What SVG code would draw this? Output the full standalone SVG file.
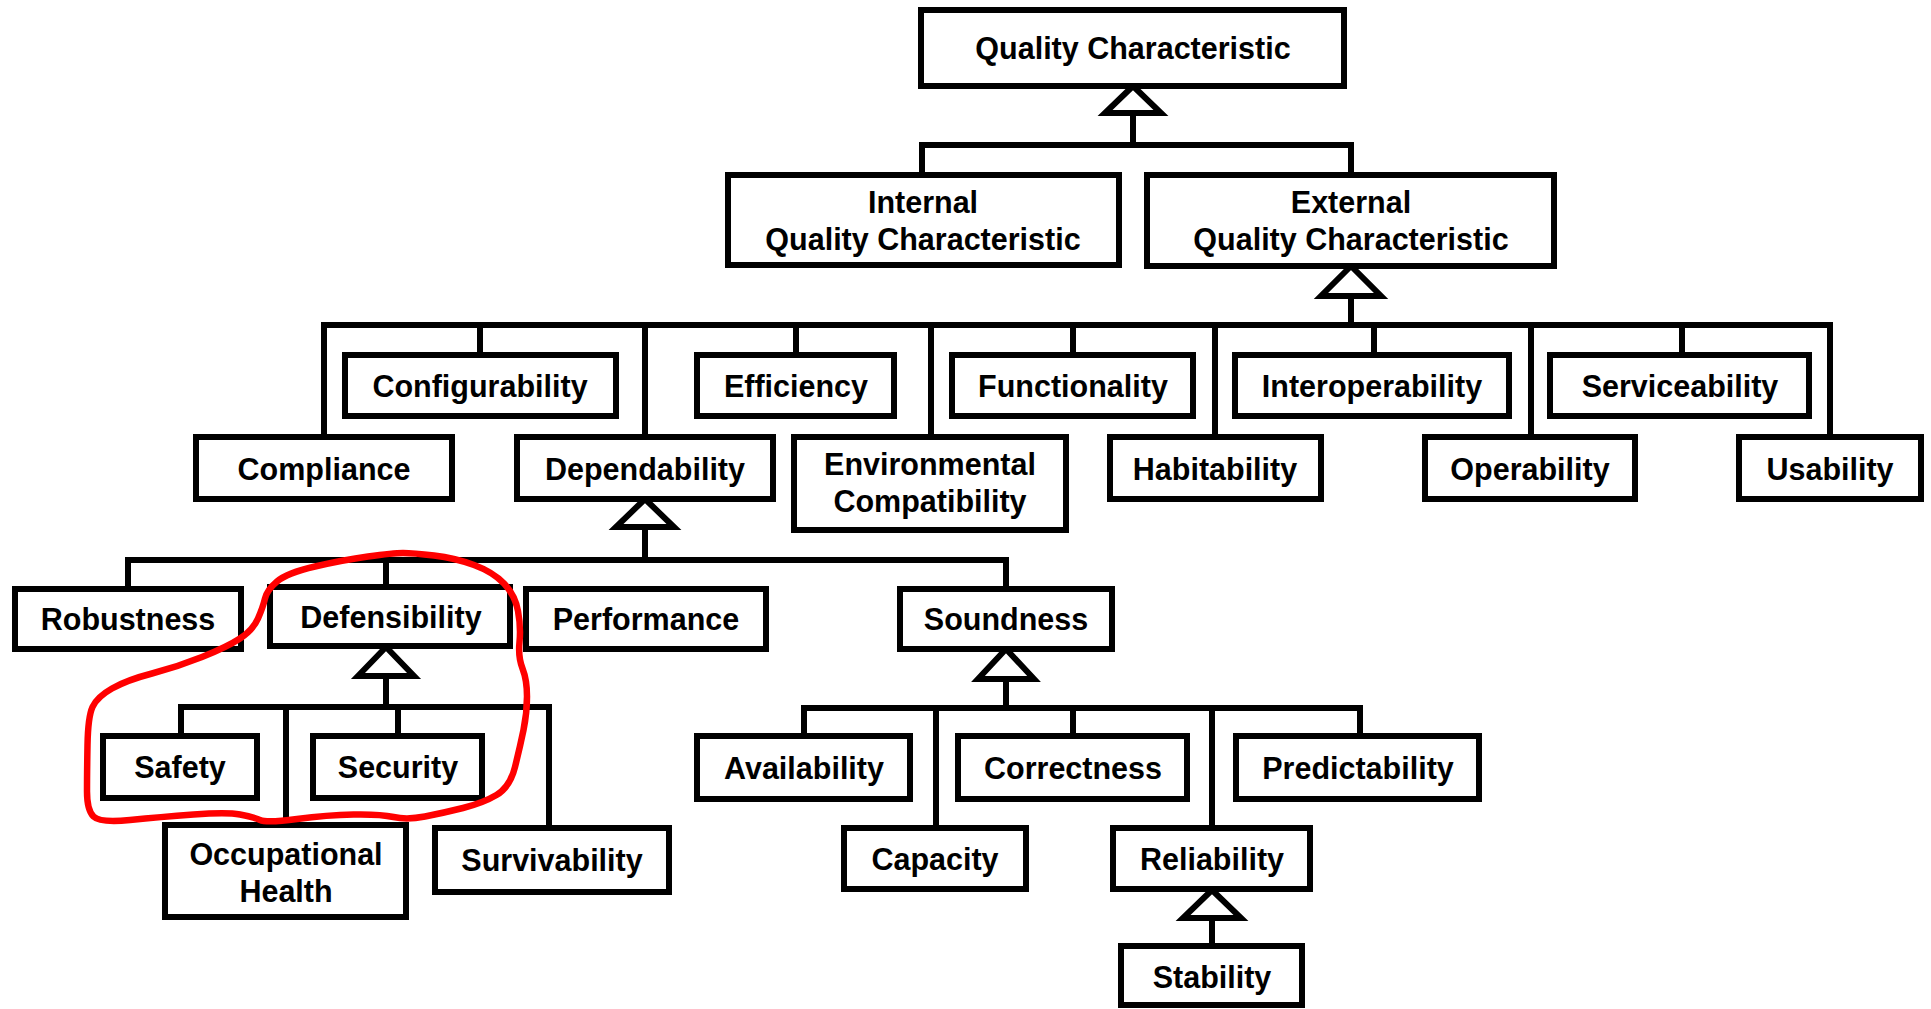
<svg xmlns="http://www.w3.org/2000/svg" width="1931" height="1009" viewBox="0 0 1931 1009">
<defs>
<style>
.box{fill:#fff;stroke:#000;stroke-width:6}
.t{font-family:"Liberation Sans",Arial,sans-serif;font-weight:bold;font-size:30.5px;fill:#000;text-anchor:middle}
.c{fill:none;stroke:#000;stroke-width:6;stroke-linecap:square}
.tri{fill:#fff;stroke:#000;stroke-width:6;stroke-linejoin:miter}
.loop{fill:none;stroke:#f00;stroke-width:6.5;stroke-linejoin:round;stroke-linecap:round}
</style>
</defs>
<rect width="1931" height="1009" fill="#fff"/>
<g id="connectors">
<path class="c" d="M1133 113V145M922 175V145H1351V175"/>
<path class="tri" d="M1133 86L1105 113H1161Z"/>
<path class="c" d="M1351 296V325M324 437V325H1830V437M480 325V355M645 325V437M796 325V355M931 325V437M1073 325V355M1215 325V437M1374 325V355M1531 325V437M1682 325V355"/>
<path class="tri" d="M1351 266L1321 296H1381Z"/>
<path class="c" d="M645 527V560M128 589V560H1006V589M386 560V587"/>
<path class="tri" d="M645 499L616 527H674Z"/>
<path class="c" d="M386 676V707M181 736V707H549V828M286 707V825M398 707V736"/>
<path class="tri" d="M386 647L358 676H414Z"/>
<path class="c" d="M1006 679V708M804 736V708H1360V736M936 708V828M1073 708V736M1212 708V828"/>
<path class="tri" d="M1006 649L978 679H1034Z"/>
<path class="c" d="M1212 918V946"/>
<path class="tri" d="M1212 890L1183 918H1241Z"/>
</g>
<g id="n-quality"><rect class="box" x="921" y="10" width="423" height="76"/><text class="t" x="1133" y="59">Quality Characteristic</text></g>
<g id="n-internal"><rect class="box" x="728" y="175" width="391" height="90"/><text class="t" x="923" y="213">Internal</text><text class="t" x="923" y="250">Quality Characteristic</text></g>
<g id="n-external"><rect class="box" x="1147" y="175" width="407" height="91"/><text class="t" x="1351" y="213">External</text><text class="t" x="1351" y="250">Quality Characteristic</text></g>
<g id="n-configurability"><rect class="box" x="345" y="355" width="271" height="61"/><text class="t" x="480" y="397">Configurability</text></g>
<g id="n-efficiency"><rect class="box" x="697" y="355" width="197" height="61"/><text class="t" x="796" y="397">Efficiency</text></g>
<g id="n-functionality"><rect class="box" x="952" y="355" width="241" height="61"/><text class="t" x="1073" y="397">Functionality</text></g>
<g id="n-interoperability"><rect class="box" x="1235" y="355" width="274" height="61"/><text class="t" x="1372" y="397">Interoperability</text></g>
<g id="n-serviceability"><rect class="box" x="1550" y="355" width="259" height="61"/><text class="t" x="1680" y="397">Serviceability</text></g>
<g id="n-compliance"><rect class="box" x="196" y="437" width="256" height="62"/><text class="t" x="324" y="480">Compliance</text></g>
<g id="n-dependability"><rect class="box" x="517" y="437" width="256" height="62"/><text class="t" x="645" y="480">Dependability</text></g>
<g id="n-environmental"><rect class="box" x="794" y="437" width="272" height="93"/><text class="t" x="930" y="475">Environmental</text><text class="t" x="930" y="512">Compatibility</text></g>
<g id="n-habitability"><rect class="box" x="1110" y="437" width="211" height="62"/><text class="t" x="1215" y="480">Habitability</text></g>
<g id="n-operability"><rect class="box" x="1425" y="437" width="210" height="62"/><text class="t" x="1530" y="480">Operability</text></g>
<g id="n-usability"><rect class="box" x="1739" y="437" width="182" height="62"/><text class="t" x="1830" y="480">Usability</text></g>
<g id="n-robustness"><rect class="box" x="15" y="589" width="226" height="60"/><text class="t" x="128" y="630">Robustness</text></g>
<g id="n-defensibility"><rect class="box" x="270" y="587" width="240" height="59"/><text class="t" x="391" y="628">Defensibility</text></g>
<g id="n-performance"><rect class="box" x="526" y="589" width="240" height="60"/><text class="t" x="646" y="630">Performance</text></g>
<g id="n-soundness"><rect class="box" x="900" y="589" width="212" height="60"/><text class="t" x="1006" y="630">Soundness</text></g>
<g id="n-safety"><rect class="box" x="103" y="736" width="154" height="62"/><text class="t" x="180" y="778">Safety</text></g>
<g id="n-security"><rect class="box" x="313" y="736" width="169" height="62"/><text class="t" x="398" y="778">Security</text></g>
<g id="n-occupational"><rect class="box" x="165" y="825" width="241" height="92"/><text class="t" x="286" y="865">Occupational</text><text class="t" x="286" y="902">Health</text></g>
<g id="n-survivability"><rect class="box" x="435" y="828" width="234" height="64"/><text class="t" x="552" y="871">Survivability</text></g>
<g id="n-availability"><rect class="box" x="697" y="736" width="213" height="63"/><text class="t" x="804" y="779">Availability</text></g>
<g id="n-correctness"><rect class="box" x="958" y="736" width="229" height="63"/><text class="t" x="1073" y="779">Correctness</text></g>
<g id="n-predictability"><rect class="box" x="1236" y="736" width="243" height="63"/><text class="t" x="1358" y="779">Predictability</text></g>
<g id="n-capacity"><rect class="box" x="844" y="828" width="182" height="61"/><text class="t" x="935" y="870">Capacity</text></g>
<g id="n-reliability"><rect class="box" x="1113" y="828" width="197" height="61"/><text class="t" x="1212" y="870">Reliability</text></g>
<g id="n-stability"><rect class="box" x="1121" y="946" width="181" height="59"/><text class="t" x="1212" y="988">Stability</text></g>
<path class="loop" d="M368 556.5Q393 553 403 553Q413 553 434 555.5Q455 558 474 565Q493 572 504 583.5Q515 595 518 611Q521 627 519.5 642Q518 657 522.5 668.5Q527 680 527 696.5Q527 713 523.5 730Q520 747 515 767Q510 787 496.5 795Q483 803 463 808Q443 813 425 816.5Q407 820 393.5 817Q380 814 353.5 814.5Q327 815 297 819Q267 823 260 820Q253 817 240 814.5Q227 812 193.5 814.5Q160 817 130 820Q100 823 93.5 816.5Q87 810 87 791.5Q87 773 87.5 745Q88 717 92.5 707Q97 697 112 688.5Q127 680 152 673.5Q177 667 202 657Q227 647 240 638.5Q253 630 258 618.5Q263 607 265 598.5Q267 590 277 581.5Q287 573 315 566.5Q343 560 368 556.5Z"/>
</svg>
